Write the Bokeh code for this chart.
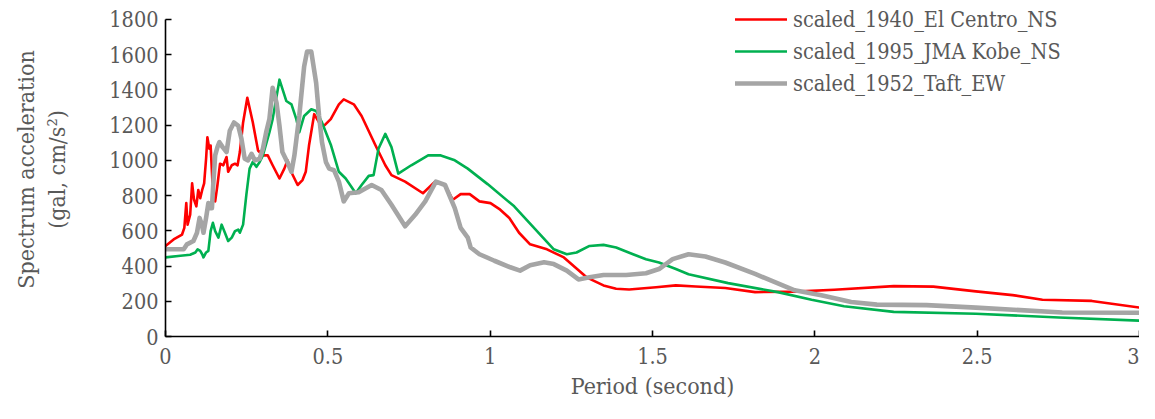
from bokeh.plotting import figure
from bokeh.models import Range1d, FixedTicker, Legend, LegendItem
from bokeh.embed import file_html
from bokeh.resources import INLINE

# ---- data (period in s, spectral acceleration in gal) ----
series_names = ["scaled_1940_El Centro_NS", "scaled_1995_JMA Kobe_NS", "scaled_1952_Taft_EW"]

elcentro_T = [0.000, 0.025, 0.051, 0.058, 0.064, 0.068, 0.076, 0.082, 0.088, 0.095, 0.101, 0.107, 0.113,
              0.119, 0.125, 0.129, 0.135, 0.139, 0.147, 0.153, 0.160, 0.168, 0.178, 0.188, 0.193, 0.204,
              0.214, 0.222, 0.229, 0.239, 0.252, 0.269, 0.285, 0.300, 0.315, 0.330, 0.351, 0.366, 0.376,
              0.387, 0.407, 0.422, 0.432, 0.442, 0.458, 0.473, 0.488, 0.509, 0.534, 0.549, 0.580, 0.604,
              0.647, 0.677, 0.696, 0.738, 0.793, 0.830, 0.861, 0.885, 0.909, 0.937, 0.967, 1.001, 1.031,
              1.059, 1.089, 1.123, 1.175, 1.227, 1.297, 1.349, 1.388, 1.428, 1.511, 1.572, 1.633, 1.724,
              1.816, 1.938, 2.060, 2.243, 2.365, 2.496, 2.609, 2.701, 2.853, 3.000]
elcentro_A = [514, 551, 579, 617, 757, 635, 691, 869, 776, 739, 832, 785, 832,
              869, 1009, 1131, 1066, 1084, 785, 767, 860, 981, 972, 1019, 935, 972,
              981, 972, 1047, 1215, 1355, 1215, 1056, 1028, 1028, 972, 897, 953, 1000,
              935, 860, 888, 935, 1084, 1262, 1215, 1196, 1234, 1318, 1346, 1318, 1252,
              1084, 972, 916, 879, 813, 879, 860, 776, 808, 808, 767, 757, 720,
              673, 589, 523, 495, 449, 336, 290, 271, 267, 280, 290, 284, 275,
              252, 255, 265, 286, 283, 256, 235, 209, 202, 164]

kobe_T = [0.000, 0.046, 0.076, 0.092, 0.099, 0.107, 0.113, 0.117, 0.125, 0.132, 0.139, 0.146, 0.153,
          0.163, 0.173, 0.183, 0.193, 0.204, 0.214, 0.224, 0.229, 0.239, 0.249, 0.259, 0.269, 0.280,
          0.290, 0.300, 0.320, 0.330, 0.351, 0.372, 0.388, 0.403, 0.412, 0.427, 0.449, 0.464, 0.482,
          0.510, 0.534, 0.555, 0.586, 0.604, 0.626, 0.641, 0.656, 0.677, 0.696, 0.717, 0.757, 0.809,
          0.848, 0.891, 0.931, 0.992, 1.074, 1.196, 1.236, 1.266, 1.306, 1.349, 1.388, 1.440, 1.480,
          1.520, 1.572, 1.611, 1.733, 1.886, 1.990, 2.090, 2.243, 2.496, 2.752, 3.000]
kobe_A = [449, 458, 464, 477, 495, 486, 467, 449, 477, 486, 598, 645, 598,
          561, 635, 589, 542, 561, 598, 607, 589, 635, 804, 953, 991, 963,
          991, 1028, 1159, 1234, 1458, 1337, 1318, 1234, 1159, 1252, 1290, 1280, 1215,
          1084, 935, 897, 813, 860, 912, 916, 1066, 1150, 1075, 925, 972, 1028,
          1028, 1000, 953, 865, 739, 495, 467, 477, 514, 520, 505, 467, 439,
          420, 383, 353, 303, 252, 209, 172, 140, 129, 108, 90]

taft_T = [0.000, 0.056, 0.066, 0.086, 0.097, 0.105, 0.112, 0.117, 0.125, 0.132, 0.137, 0.143, 0.147,
          0.153, 0.160, 0.166, 0.176, 0.188, 0.198, 0.211, 0.224, 0.234, 0.244, 0.254, 0.265, 0.275,
          0.290, 0.300, 0.310, 0.320, 0.330, 0.342, 0.351, 0.360, 0.375, 0.388, 0.397, 0.412, 0.427,
          0.436, 0.449, 0.464, 0.473, 0.482, 0.494, 0.504, 0.519, 0.534, 0.549, 0.565, 0.595, 0.635,
          0.665, 0.696, 0.738, 0.769, 0.800, 0.833, 0.861, 0.891, 0.909, 0.931, 0.940, 0.967, 1.013,
          1.062, 1.092, 1.123, 1.166, 1.196, 1.236, 1.272, 1.306, 1.349, 1.419, 1.480, 1.520, 1.562,
          1.611, 1.663, 1.724, 1.816, 1.938, 2.020, 2.112, 2.191, 2.344, 2.496, 2.762, 3.000]
taft_A = [495, 495, 523, 542, 589, 673, 635, 589, 673, 757, 729, 729, 860,
          1028, 1075, 1103, 1075, 1047, 1168, 1215, 1196, 1122, 1009, 1000, 1037, 1000,
          1009, 1066, 1159, 1234, 1412, 1327, 1196, 1047, 991, 935, 1028, 1252, 1533,
          1617, 1617, 1440, 1252, 1103, 991, 953, 944, 879, 767, 813, 819, 860,
          832, 748, 626, 691, 767, 879, 860, 729, 617, 561, 505, 467, 430,
          393, 374, 405, 421, 411, 374, 324, 336, 349, 349, 359, 383, 439,
          467, 454, 420, 355, 262, 234, 196, 181, 178, 164, 136, 135]

x_ticks = [0, 0.5, 1, 1.5, 2, 2.5, 3]
x_tick_labels = ["0", "0.5", "1", "1.5", "2", "2.5", "3"]
y_ticks = [0, 200, 400, 600, 800, 1000, 1200, 1400, 1600, 1800]

colors = ["#FF0000", "#00B050", "#A5A5A5"]
widths = [2.6, 2.6, 4.6]

FONT = "DejaVu Serif Condensed, DejaVu Serif"
TXT = "#595959"

p = figure(width=1139, height=403, output_backend="svg", toolbar_location=None,
           x_range=Range1d(0, 3), y_range=Range1d(0, 1896),
           min_border_left=165, min_border_right=0, min_border_top=2, min_border_bottom=67)
p.outline_line_color = None
p.xgrid.visible = False
p.ygrid.visible = False
p.background_fill_color = "white"
p.border_fill_color = "white"

renderers = []
for T, A, c, w in zip([elcentro_T, kobe_T, taft_T], [elcentro_A, kobe_A, taft_A], colors, widths):
    r = p.line(T, A, line_color=c, line_width=w, line_join="round", line_cap="round")
    renderers.append(r)

for ax in (p.xaxis[0], p.yaxis[0]):
    ax.axis_line_color = "black"
    ax.axis_line_width = 1.6
    ax.major_tick_line_color = "black"
    ax.major_tick_line_width = 1.6
    ax.major_tick_in = 6
    ax.major_tick_out = 0
    ax.minor_tick_line_color = None
    ax.major_label_text_font = FONT
    ax.major_label_text_font_size = "21.5px"
    ax.major_label_text_color = TXT
    ax.axis_label_text_font = FONT
    ax.axis_label_text_font_size = "23px"
    ax.axis_label_text_font_style = "normal"
    ax.axis_label_text_color = TXT

p.xaxis[0].ticker = FixedTicker(ticks=x_ticks)
p.xaxis[0].major_label_overrides = {t: l for t, l in zip(x_ticks, x_tick_labels)}
p.xaxis[0].major_label_standoff = 11
p.xaxis[0].axis_label = "Period (second)"
p.xaxis[0].axis_label_standoff = 6

p.yaxis[0].ticker = FixedTicker(ticks=y_ticks)
p.yaxis[0].bounds = (0, 1800)
p.yaxis[0].major_label_standoff = 7
p.yaxis[0].axis_label = "Spectrum acceleration\n(gal, cm/s\u00b2)"
p.yaxis[0].axis_label_standoff = 36

legend = Legend(items=[LegendItem(label=n, renderers=[r]) for n, r in zip(series_names, renderers)],
                location=(570, 237), orientation="vertical")
legend.label_text_font = FONT
legend.label_text_font_size = "21.5px"
legend.label_text_color = TXT
legend.glyph_width = 52
legend.glyph_height = 32
legend.label_height = 32
legend.label_standoff = 6
legend.spacing = 0
legend.padding = 0
legend.margin = 0
legend.border_line_alpha = 0
legend.background_fill_alpha = 0
p.add_layout(legend)

open("out.html", "w").write(file_html(p, INLINE))
